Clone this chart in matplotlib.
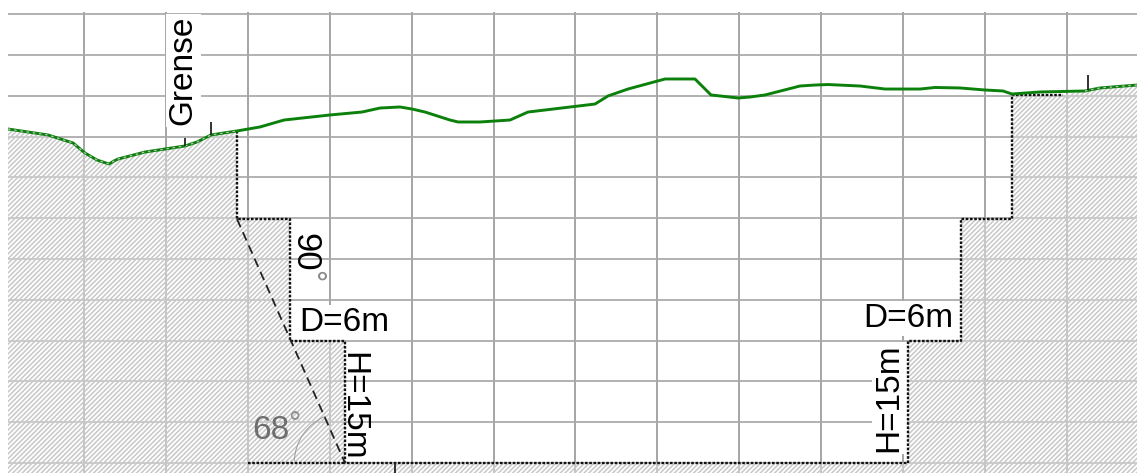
import numpy as np
import matplotlib
matplotlib.use('Agg')
import matplotlib.pyplot as plt
from matplotlib.patches import Arc

plt.rcParams['font.family'] = ['Liberation Sans', 'DejaVu Sans']
plt.rcParams['hatch.linewidth'] = 1.1

# terrain profile, metres along section / metres above pit floor
terrain_x = [-9.28, -4.40, -1.34, 0.12, 1.59, 3.05, 3.66, 4.15, 7.45, 12.33, 13.80, 15.51,
             18.68, 21.49, 24.42, 30.04, 33.94, 36.14, 38.58, 40.05, 41.64, 44.69, 45.67,
             48.35, 52.01, 54.21, 62.39, 63.98, 66.42, 70.94, 74.60, 76.56, 77.66, 79.85,
             81.32, 83.15, 87.42, 89.26, 90.84, 94.75, 97.80, 102.08, 103.91, 106.96,
             110.01, 112.21, 113.31, 116.73, 122.22, 124.06, 128.57]
terrain_z = [40.93, 40.20, 39.22, 37.99, 37.13, 36.64, 37.01, 37.25, 38.11, 38.85, 39.34, 40.20,
             40.69, 41.18, 42.03, 42.65, 43.01, 43.50, 43.63, 43.38, 43.01, 42.03, 41.79,
             41.79, 42.03, 43.01, 43.99, 44.98, 45.83, 47.06, 47.06, 45.10, 44.98, 44.73,
             44.85, 45.10, 46.20, 46.32, 46.38, 46.20, 45.83, 45.83, 46.02, 45.96,
             45.71, 45.59, 45.22, 45.47, 45.59, 45.96, 46.32]

# pit outline from the left crest to the right crest
pit_x = [18.68, 18.68, 25.15, 25.15, 31.87, 31.87, 100.61, 100.61, 107.08, 107.08, 113.31, 113.31, 119.54]
pit_z = [40.69, 29.90, 29.90, 14.95, 14.95, 0, 0, 14.95, 14.95, 29.90, 29.90, 45.10, 45.10]

slope_x = [18.68, 31.87]
slope_z = [29.90, 0]

grid_x = list(range(0, 130, 10))
grid_z = list(range(0, 60, 5))

terrain_x = np.array(terrain_x)
terrain_z = np.array(terrain_z)
left = terrain_x <= 18.68
right = terrain_x >= 119.54

fig = plt.figure(figsize=(11.37, 4.73), dpi=100)
ax = fig.add_axes([8 / 1137, 0, 1 - 8 / 1137, 1 - 12 / 473])
ax.set_xlim(-9.28, 128.57)
ax.set_ylim(-1.23, 55.27)
for spine in ax.spines.values():
    spine.set_visible(False)
ax.set_xticks(grid_x)
ax.set_yticks(grid_z)
ax.tick_params(length=0, labelbottom=False, labelleft=False)
ax.xaxis.grid(True, color='#9a9a9a', linewidth=1.25)
ax.yaxis.grid(True, color='#a8a8a8', linewidth=1.25)
ax.set_axisbelow(True)

# hatched ground
ground_x = list(terrain_x[left]) + pit_x + list(terrain_x[right]) + [128.57, -9.28]
ground_z = list(terrain_z[left]) + pit_z + list(terrain_z[right]) + [-1.23, -1.23]
ax.fill(ground_x, ground_z, facecolor=(1, 1, 1, 0.35), edgecolor='#c8c8c8', linewidth=0, hatch='/' * 7, zorder=2)

dots = (0, (1.1, 0.7))
ax.plot(pit_x, pit_z, color='#111111', linewidth=1.7, linestyle=dots, zorder=3)
ax.plot([20, 31.87], [0, 0], color='#111111', linewidth=1.7, linestyle=dots, zorder=3)
ax.plot(slope_x, slope_z, color='#222222', linewidth=1.3, linestyle=(0, (5, 3)), zorder=3)
ax.add_patch(Arc((31.87, 0), 12.4, 12.4, theta1=112, theta2=178, color='#999999', linewidth=0.7, zorder=3))

ax.plot(terrain_x, terrain_z, color='#0b800b', linewidth=2.1, zorder=4)
# the ground edge runs dotted on top of the terrain line outside the pit
ax.plot(terrain_x[left], terrain_z[left], color='#b8c8b8', linewidth=0.9, linestyle=(0, (2, 3)), zorder=5)
ax.plot(terrain_x[right], terrain_z[right], color='#b8c8b8', linewidth=0.9, linestyle=(0, (2, 3)), zorder=5)

# boundary ticks
ax.vlines([12.33, 15.51, 122.59, 37.97], [38.85, 40.20, 45.71, -1.23], [39.83, 41.79, 47.55, 0],
          color='#222222', linewidth=1.3, zorder=5)

box = dict(facecolor='white', edgecolor='none', pad=1.5)
ax.text(12.09, 48.09, 'Grense', rotation=90, fontsize=24, ha='center', va='center', color='#000000', bbox=box, zorder=3.5)
ax.text(27.0, 25.86, '90', rotation=-90, fontsize=25, ha='center', va='center', color='#000000', zorder=6)
ax.text(27.6, 22.86, '°', rotation=-90, fontsize=22, ha='center', va='center', color='#888888', zorder=6)
ax.text(31.75, 17.16, 'D=6m', fontsize=24, ha='center', va='center', color='#000000', bbox=box, zorder=2.5)
ax.text(100.6, 17.65, 'D=6m', fontsize=24, ha='center', va='center', color='#000000', bbox=box, zorder=2.5)
ax.text(32.86, 7.0, 'H=15m', rotation=-90, fontsize=24, ha='center', va='center', color='#000000', zorder=6)
ax.text(98.3, 7.95, 'H=15m', rotation=90, fontsize=24, ha='center', va='center', color='#000000', bbox=box, zorder=2.5)
ax.text(22.83, 4.04, '68', fontsize=24, ha='center', va='center', color='#6e6e6e', zorder=2.5)
ax.text(25.64, 4.7, '°', fontsize=22, ha='center', va='center', color='#909090', zorder=2.5)

fig.savefig('out.png', dpi=100)
